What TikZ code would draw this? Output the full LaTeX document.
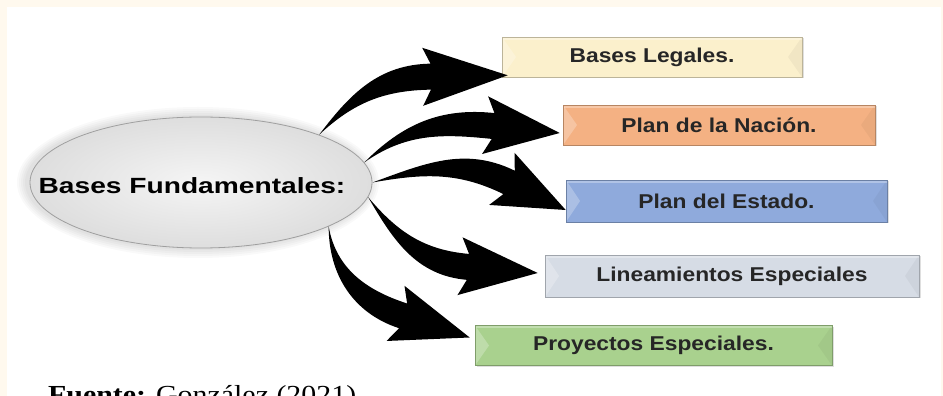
\documentclass[tikz,border=0pt]{standalone}
\usepackage{fontspec}
\setmainfont{Liberation Serif}
\setsansfont{Liberation Sans}
\usepackage{graphicx}
\usepackage{tikz}
\usetikzlibrary{calc,shapes.geometric,shadows}

\definecolor{paper}{HTML}{FFF9EE}
\definecolor{legal}{HTML}{FBF0CC}
\definecolor{nacion}{HTML}{F4B183}
\definecolor{estado}{HTML}{8FAADC}
\definecolor{linea}{HTML}{D6DCE5}
\definecolor{proyecto}{HTML}{A9D18E}

\newcommand\wtext[2]{\scalebox{#1}[1]{#2}}
% curved black arrow: tail, leaving angle, tip, head direction, head length
\newcommand\bigarrow[5]{%
  \pgfmathsetmacro\aup{#2+5}%
  \pgfmathsetmacro\alow{#2-5}%
  \pgfmathsetmacro\aback{#4+180}%
  \fill (#1) to[out=\aup,in=\aback] ($(#3)+(\aback:#5-8)+(#4+90:13)$)
    -- ($(#3)+(\aback:#5)+(#4+90:29)$) -- (#3)
    -- ($(#3)+(\aback:#5)+(#4-90:29)$)
    -- ($(#3)+(\aback:#5-8)+(#4-90:13)$) to[out=\aback,in=\alow] (#1) -- cycle;}

\begin{document}
\begin{tikzpicture}[x=1pt,y=1pt]
		\tikzset{panel/.style={draw=#1!75!black, line width=0.6pt, fill=#1, minimum height=40pt,
				text=black!85, font=\sffamily\bfseries\fontsize{20}{24}\selectfont,
				drop shadow={shadow xshift=1.5pt,shadow yshift=-1.5pt,opacity=0.25},
				path picture={
					\fill[white,opacity=0.25] (path picture bounding box.north west) -- ([xshift=14pt]path picture bounding box.west) -- (path picture bounding box.south west) -- cycle;
					\fill[black,opacity=0.04] (path picture bounding box.north east) -- ([xshift=-14pt]path picture bounding box.east) -- (path picture bounding box.south east) -- cycle;
					\fill[white,opacity=0.3] (path picture bounding box.north west) rectangle ([yshift=-3pt]path picture bounding box.north east);}},
			hub/.style={ellipse, draw=gray!75, line width=0.8pt, inner color=gray!8, outer color=gray!26,
				minimum width=342pt, minimum height=131pt}}
		\useasboundingbox (0,0) rectangle (943,396);
		\fill[paper] (0,0) rectangle (943,396);
		\fill[white] (7,0) rectangle (941,389);
		% glow round the ellipse
		\coordinate (fc) at (201,213.5);
		\foreach \g in {10,8,...,2}
			\fill[black,opacity=0.025] ([xshift=-3pt]fc) ellipse ({171+\g} and {65.5+\g});
		\node[hub] (fund) at (fc) {};
		\node[font=\sffamily\bfseries\fontsize{22}{26}\selectfont] (fundtext) at (192,210) {\wtext{1.28}{Bases Fundamentales:}};

		\node[panel=legal, minimum width=300pt] (legales) at (652,339) {\wtext{1.14}{Bases Legales.}};
		\node[panel=nacion, minimum width=312pt] (nacion) at (719,271) {\wtext{1.14}{Plan de la Nación.}};
		\node[panel=estado, minimum width=321pt, minimum height=42pt] (estado) at (726.5,195) {\wtext{1.14}{Plan del Estado.}};
		\node[panel=linea, minimum width=374pt, minimum height=42pt] (linea) at (732,120) {\wtext{1.14}{Lineamientos Especiales}};
		\node[panel=proyecto, minimum width=357pt] (proy) at (653.5,50.5) {\wtext{1.14}{Proyectos Especiales.}};

		\coordinate (tip1) at ([xshift=6pt,yshift=2pt]legales.south west);
		\coordinate (tip2) at ([xshift=-3pt,yshift=-8pt]nacion.west);
		\coordinate (tip3) at ([yshift=-9pt]estado.west);
		\coordinate (tip4) at ([xshift=-7pt,yshift=3pt]linea.west);
		\coordinate (tip5) at ([xshift=-5pt,yshift=8pt]proy.west);
		\bigarrow{fund.22}{48}{tip1}{1}{85}
		\bigarrow{fund.7}{40}{tip2}{-6}{75}
		\bigarrow{fund.0}{15}{tip3}{-26}{71}
		\bigarrow{fund.-5}{-55}{tip4}{-5}{78}
		\bigarrow{fund.-19}{-85}{tip5}{-18}{78}

		\node[anchor=base west, inner sep=0pt, font=\fontsize{26}{30}\selectfont] (fuente) at (48,-8) {\wtext{1.15}{\textbf{Fuente:} González (2021)}};
	\end{tikzpicture}
\end{document}
